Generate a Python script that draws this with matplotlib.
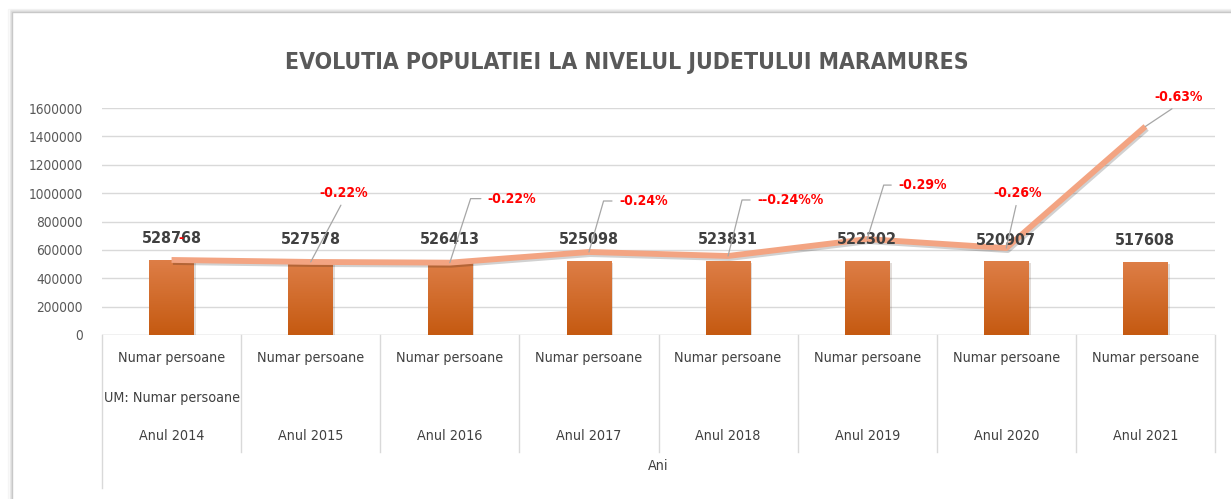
import numpy as np
import matplotlib.pyplot as plt
import matplotlib.patheffects as pe
from matplotlib.patches import Rectangle
from matplotlib.lines import Line2D
from matplotlib.colors import LinearSegmentedColormap

# data
years = ['Anul 2014', 'Anul 2015', 'Anul 2016', 'Anul 2017',
         'Anul 2018', 'Anul 2019', 'Anul 2020', 'Anul 2021']
populatie = [528768, 527578, 526413, 525098, 523831, 522302, 520907, 517608]
# the salmon line as drawn in the picture (not on the same scale as the bars)
linie = [529000, 515000, 510000, 585000, 557000, 676000, 613000, 1470000]
procente = ['-', '-0.22%', '-0.22%', '-0.24%', '--0.24%%', '-0.29%', '-0.26%', '-0.63%']
y_ticks = [0, 200000, 400000, 600000, 800000, 1000000, 1200000, 1400000, 1600000]

plt.rcParams['font.family'] = ['DejaVu Sans']
plt.rcParams['font.stretch'] = 'condensed'

fig = plt.figure(figsize=(12.31, 4.99), dpi=100)

# chart frame with a soft shadow
for k, a in enumerate([0.04, 0.07, 0.11]):
    fig.patches.append(Rectangle((12/1231 - (3-k)*0.0010, -0.05), 1.2, (499-12)/499 + 0.05 + (3-k)*0.002,
                                 transform=fig.transFigure, fill=False,
                                 edgecolor='black', alpha=a, lw=1.0, zorder=-3))
fig.patches.append(Rectangle((12/1231, -0.05), 1.2, (499-12)/499 + 0.05,
                             transform=fig.transFigure, facecolor='white',
                             edgecolor='#C8C8C8', lw=1, zorder=-2))

ax = fig.add_axes([102/1231, 1 - 335/499, (1215-102)/1231, (335-108)/499])
ax.patch.set_alpha(0)

x = np.arange(len(years))
bars = ax.bar(x, populatie, width=0.32, color='#D2691E', zorder=2,
              path_effects=[pe.SimplePatchShadow(offset=(1.5, -1.5), alpha=0.15), pe.Normal()])

# vertical gradient in each bar
grad = np.linspace(0, 1, 100).reshape(-1, 1)
cmap = LinearSegmentedColormap.from_list('bar', ['#C55A11', '#DE7E47'])
for b in bars:
    im = ax.imshow(grad, extent=[b.get_x(), b.get_x() + b.get_width(), 0, b.get_height()],
                   origin='lower', aspect='auto', cmap=cmap, zorder=2.1)
    im.set_clip_path(b)

ax.plot(x, linie, color='#F3A482', lw=4.2, zorder=3, solid_joinstyle='round',
        solid_capstyle='butt',
        path_effects=[pe.SimpleLineShadow(offset=(1, -1.5), alpha=0.18), pe.Normal()])

# value labels
for i, v in enumerate(populatie):
    ax.annotate(str(v), (x[i], v), xytext=(0, 21), textcoords='offset pixels',
                ha='center', va='center', fontsize=11.5, fontweight='bold',
                color='#404040', zorder=5)

# percentage labels with leader lines
offsets = [(9, 22), (33, 69), (38, 64), (30, 51), (29, 56), (31, 54), (11, 55), (33, 29)]
styles = [None, 'straight', 'elbow', 'elbow', 'elbow', 'elbow', 'straight', 'straight']
angles = [0, 0, 72, 74, 76, 73, 0, 0]
for i, p in enumerate(procente):
    dx, dy = offsets[i]
    kw = dict(textcoords='offset pixels', fontsize=10, fontweight='bold',
              color='#FF0000', va='center', zorder=6)
    if styles[i] is None:
        ax.annotate(p, (x[i], linie[i]), xytext=(dx, dy), ha='center', **kw)
    elif styles[i] == 'straight':
        ax.annotate(p, (x[i], linie[i]), xytext=(dx, dy), ha='center',
                    arrowprops=dict(arrowstyle='-', color='#A6A6A6', lw=0.9,
                                    relpos=(0.5, 0), shrinkA=2, shrinkB=0), **kw)
    else:
        ax.annotate(p, (x[i], linie[i]), xytext=(dx, dy), ha='left',
                    arrowprops=dict(arrowstyle='-', color='#A6A6A6', lw=0.9,
                                    relpos=(0, 0.5), shrinkA=3, shrinkB=0,
                                    connectionstyle='angle,angleA=0,angleB=%d,rad=0' % angles[i]),
                    **kw)

ax.set_xlim(-0.5, len(years) - 0.5)
ax.set_ylim(0, 1600000)
ax.set_yticks(y_ticks)
ax.set_yticklabels([str(t) for t in y_ticks])
ax.tick_params(axis='y', length=0, pad=14, labelsize=9.8, labelcolor='#595959')
ax.set_xticks([])
ax.grid(axis='y', color='#D9D9D9', lw=1, zorder=0)
ax.set_axisbelow(True)
for s in ax.spines.values():
    s.set_visible(False)
ax.axhline(0, color='#D9D9D9', lw=1, zorder=1)

# multi-level category axis
tr = ax.get_xaxis_transform()
for i, yr in enumerate(years):
    ax.text(x[i], -0.101, 'Numar persoane', transform=tr, ha='center', va='center',
            fontsize=10.3, color='#404040')
    ax.text(x[i], -0.445, yr, transform=tr, ha='center', va='center',
            fontsize=10.3, color='#404040')
ax.text(x[0], -0.278, 'UM: Numar persoane', transform=tr, ha='center', va='center',
        fontsize=10.3, color='#404040')
ax.text(np.mean(x), -0.577, 'Ani', transform=tr, ha='center', va='center',
        fontsize=10.3, color='#404040')
for b in np.arange(-0.5, len(years), 1.0):
    low = -0.674 if b == -0.5 else -0.515
    ax.add_line(Line2D([b, b], [0, low], transform=tr, color='#D9D9D9', lw=1, clip_on=False))

fig.text(627/1231, 1 - 62/499, 'EVOLUTIA POPULATIEI LA NIVELUL JUDETULUI MARAMURES',
         ha='center', va='center', fontsize=16.5, fontweight='bold', color='#595959')

fig.savefig('out.png', dpi=100)
